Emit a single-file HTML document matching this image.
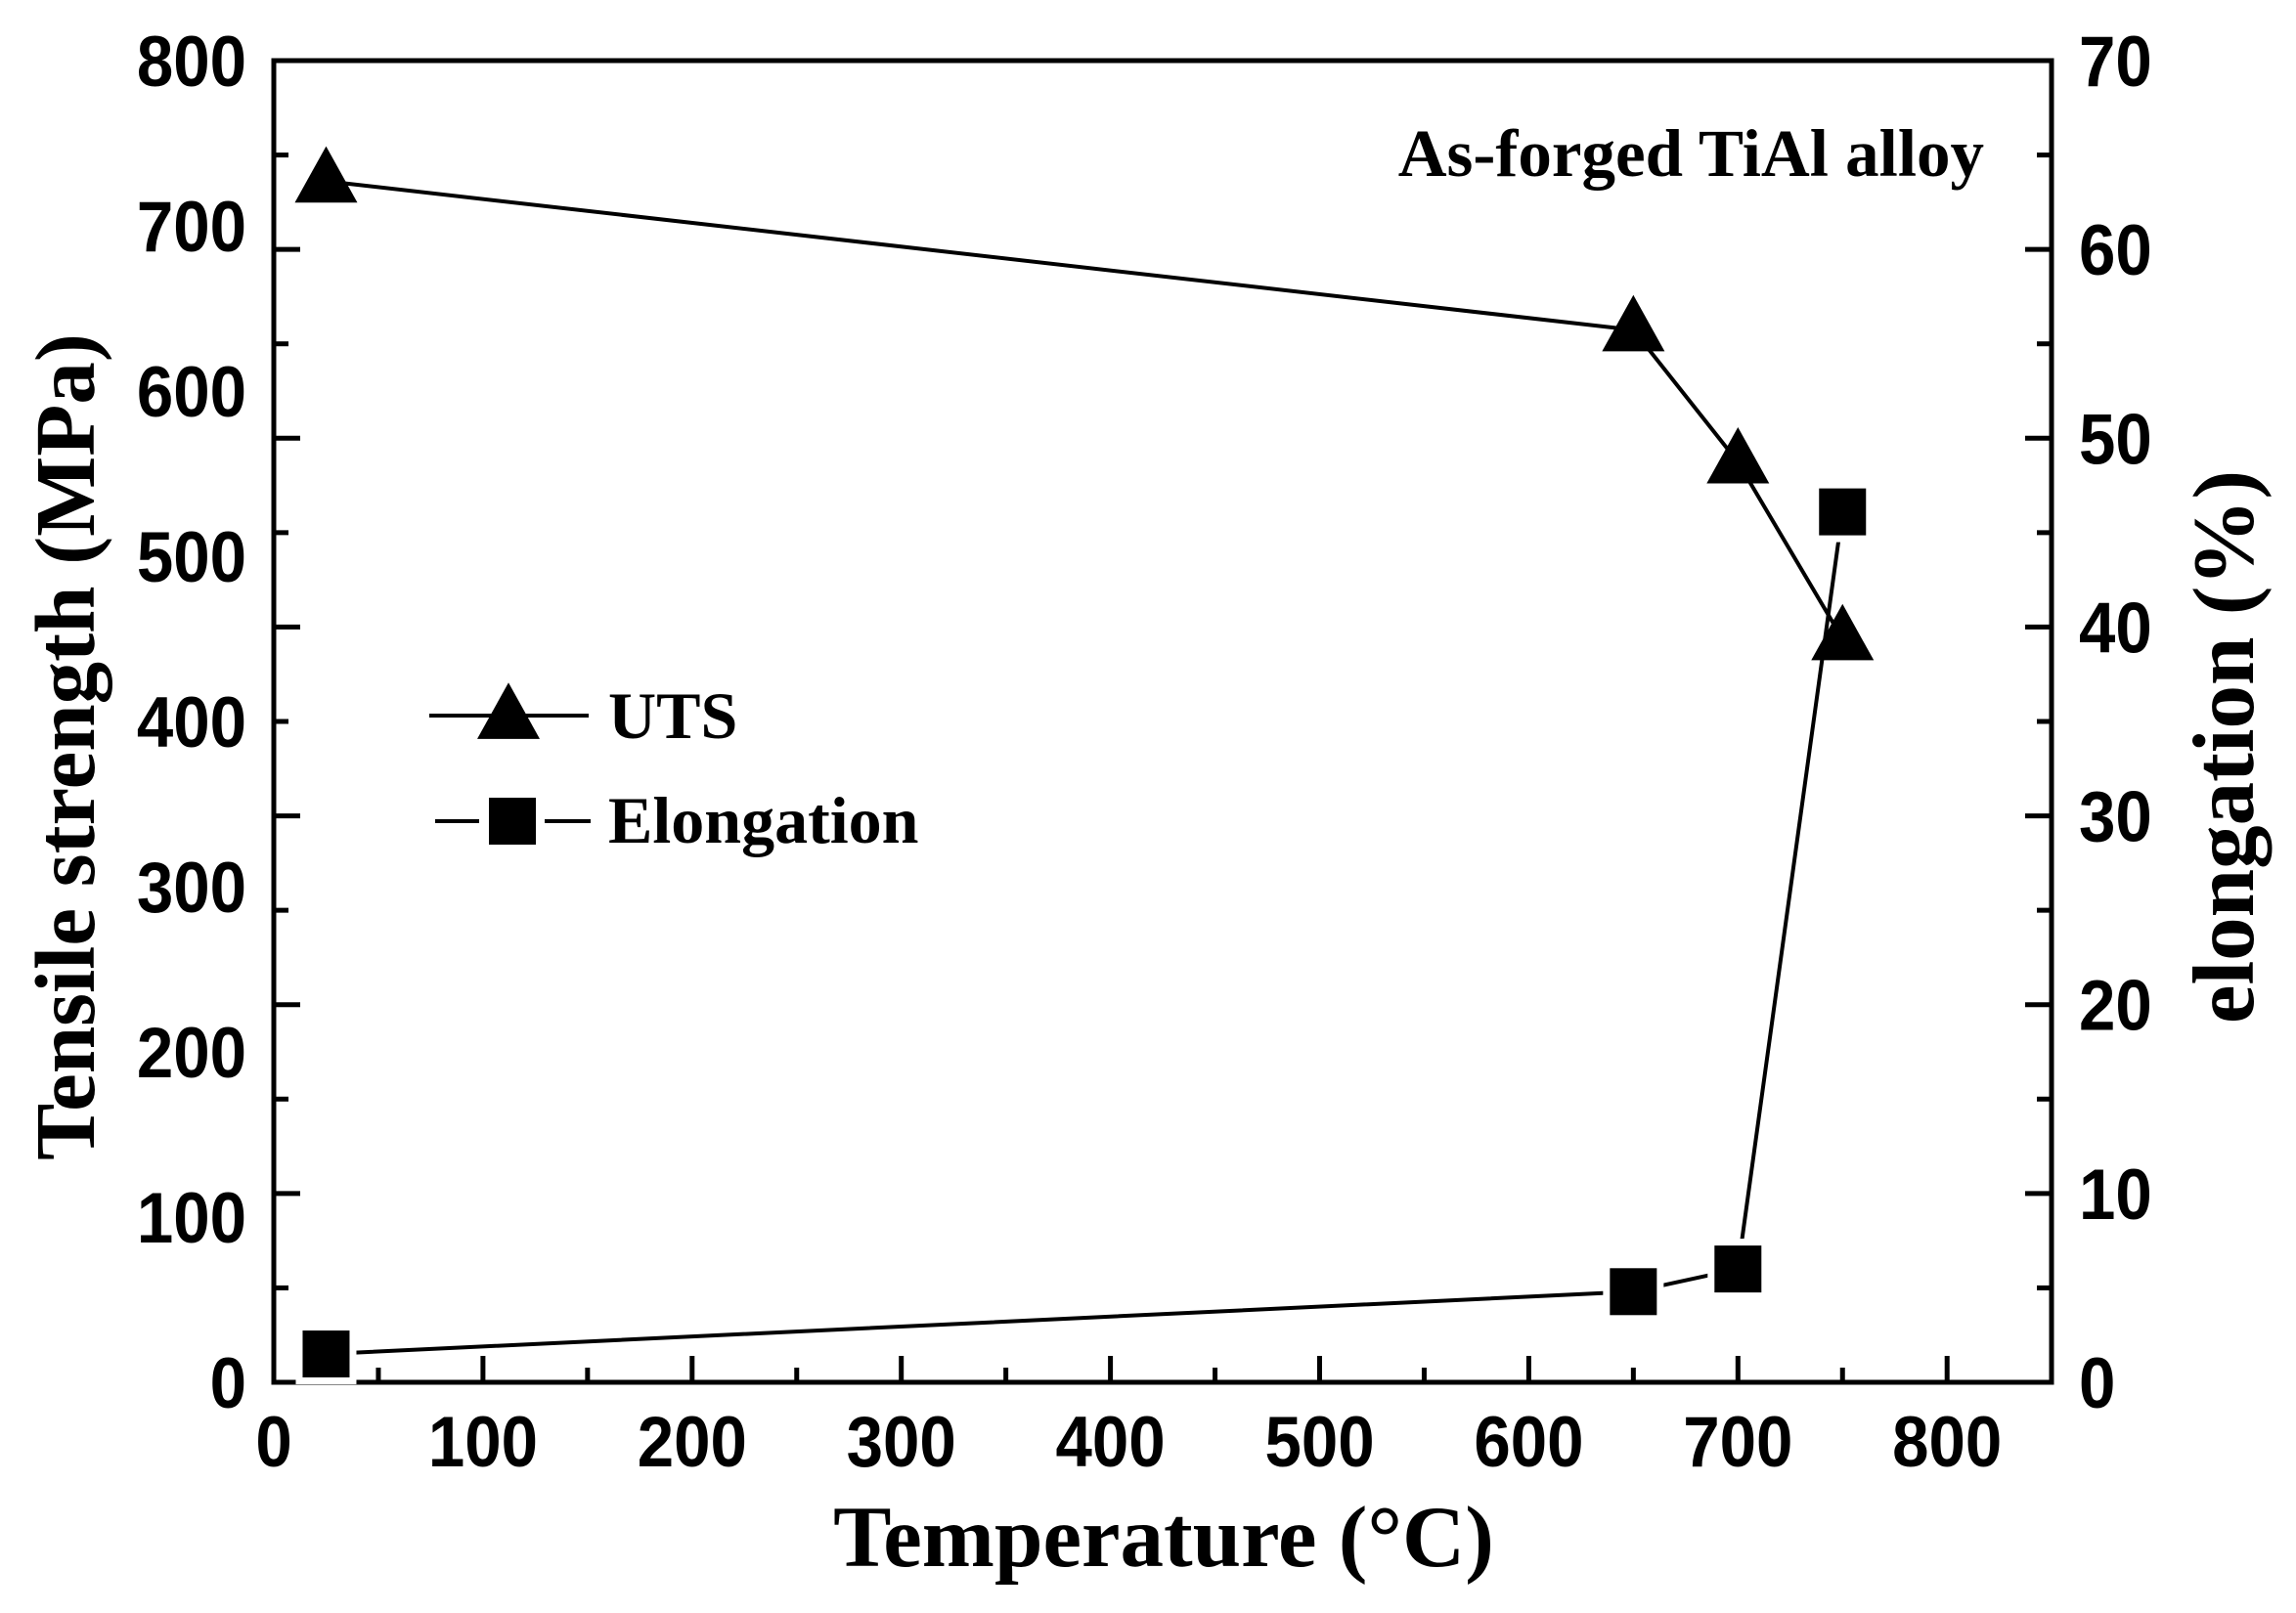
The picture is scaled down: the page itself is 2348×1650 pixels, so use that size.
<!DOCTYPE html>
<html><head><meta charset="utf-8"><style>
html,body{margin:0;padding:0;background:#fff;}
svg{display:block;}
.tl{font-family:"Liberation Sans",Arial,sans-serif;font-weight:bold;font-size:64px;fill:#000;}
.ser{font-family:"Liberation Serif","Times New Roman",serif;font-weight:bold;fill:#000;}
</style></head><body>
<svg id="chart" width="2348" height="1650" viewBox="0 0 2348 1650" xmlns="http://www.w3.org/2000/svg">
<g id="g"></g>
</svg>
<script>
const temps = [25, 650, 700, 750];
const utsValues = [727, 637, 557, 450];
const elongValues = [1.5, 4.8, 6.0, 46.1];
const xTicks = [0, 100, 200, 300, 400, 500, 600, 700, 800];
const yLeftTicks = [0, 100, 200, 300, 400, 500, 600, 700, 800];
const yRightTicks = [0, 10, 20, 30, 40, 50, 60, 70];

const L = 280, R = 2098, T = 62, B = 1414;
const xs = v => L + v / 100 * 213.9;
const yl = v => B - v / 800 * (B - T);
const yr = v => B - v / 70 * (B - T);
const NS = 'http://www.w3.org/2000/svg';
const g = document.getElementById('g');
function mk(tag, attrs, name) {
  const e = document.createElementNS(NS, tag);
  for (const k in attrs) e.setAttribute(k, attrs[k]);
  
  
  g.appendChild(e);
  return e;
}
function label(x, y, anchor, txt, name) {
  const t = mk('text', {x: 0, y: 0, 'text-anchor': anchor, class: 'tl', transform: `translate(${x},${y}) scale(1.05,1.15)`}, name);
  t.textContent = txt;
}
mk('rect', {x: L, y: T, width: R - L, height: B - T, fill: 'none', stroke: '#000', 'stroke-width': 5}, 'plot-frame');
for (let v = 0; v <= 800; v += 50) {
  const major = v % 100 === 0;
  mk('line', {x1: xs(v), x2: xs(v), y1: B, y2: B - (major ? 27 : 15), stroke: '#000', 'stroke-width': 5}, 'x-tick');
}
xTicks.forEach(v => label(xs(v), 1500, 'middle', v, 'x-tick-label'));
for (let v = 0; v <= 70; v += 5) {
  const major = v % 10 === 0;
  const len = major ? 27 : 15;
  mk('line', {x1: L, x2: L + len, y1: yr(v), y2: yr(v), stroke: '#000', 'stroke-width': 5}, 'left-tick');
  mk('line', {x1: R, x2: R - len, y1: yr(v), y2: yr(v), stroke: '#000', 'stroke-width': 5}, 'right-tick');
}
yLeftTicks.forEach(v => label(252, yl(v) + 26, 'end', v, 'left-tick-label'));
yRightTicks.forEach(v => label(2126, yr(v) + 26, 'start', v, 'right-tick-label'));
mk('polyline', {points: temps.map((t, i) => xs(t) + ',' + yl(utsValues[i])).join(' '), fill: 'none', stroke: '#000', 'stroke-width': 4}, 'uts-line');
mk('polyline', {points: temps.map((t, i) => xs(t) + ',' + yr(elongValues[i])).join(' '), fill: 'none', stroke: '#000', 'stroke-width': 4}, 'elongation-line');
function tri(cx, cy, s, name) {
  const h = s * 0.9;
  return mk('polygon', {points: `${cx},${cy - h * 0.62} ${cx - s / 2},${cy + h * 0.38} ${cx + s / 2},${cy + h * 0.38}`, fill: '#000'}, name);
}
temps.forEach((t, i) => {
  tri(xs(t), yl(utsValues[i]), 64, 'uts-point');
});
temps.forEach((t, i) => {
  mk('rect', {x: xs(t) - 24, y: yr(elongValues[i]) - 24, width: 48, height: 48, fill: '#000', stroke: '#fff', 'stroke-width': 14, 'paint-order': 'stroke'}, 'elongation-point');
});
mk('line', {x1: 439, x2: 602, y1: 732, y2: 732, stroke: '#000', 'stroke-width': 4}, 'legend-uts-line');
tri(520, 734, 64, 'legend-uts-marker');
const lt1 = mk('text', {x: 622, y: 755, class: 'ser', 'font-size': 68}, 'legend-uts-label'); lt1.textContent = 'UTS';
mk('line', {x1: 445, x2: 490, y1: 840, y2: 840, stroke: '#000', 'stroke-width': 4}, 'legend-elong-line-left');
mk('line', {x1: 557, x2: 604, y1: 840, y2: 840, stroke: '#000', 'stroke-width': 4}, 'legend-elong-line-right');
mk('rect', {x: 500, y: 816, width: 48, height: 48, fill: '#000'}, 'legend-elong-marker');
const lt2 = mk('text', {x: 622, y: 862, class: 'ser', 'font-size': 68}, 'legend-elongation-label'); lt2.textContent = 'Elongation';
const an = mk('text', {x: 2029, y: 180, 'text-anchor': 'end', class: 'ser', 'font-size': 69}, 'chart-annotation'); an.textContent = 'As-forged TiAl alloy';
const xt = mk('text', {x: 1190, y: 1602, 'text-anchor': 'middle', class: 'ser', 'font-size': 89}, 'x-axis-title'); xt.textContent = 'Temperature (°C)';
const ylt = mk('text', {x: 0, y: 0, 'text-anchor': 'middle', class: 'ser', 'font-size': 87, transform: 'translate(96,764) rotate(-90)'}, 'left-axis-title'); ylt.textContent = 'Tensile strength (MPa)';
const yrt = mk('text', {x: 0, y: 0, 'text-anchor': 'middle', class: 'ser', 'font-size': 89, transform: 'translate(2304,764) rotate(-90)'}, 'right-axis-title'); yrt.textContent = 'elongation (%)';
</script>
</body></html>
